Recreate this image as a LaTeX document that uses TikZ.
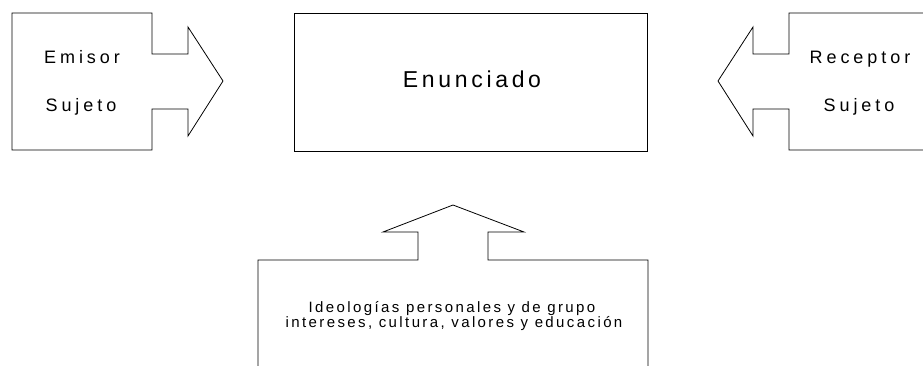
\documentclass[tikz,border=0pt]{standalone}
\usepackage{fontspec}
\setmainfont{Liberation Sans}
\newfontfamily\spaced[LetterSpace=22]{Liberation Sans}
\newfontfamily\spacedc[LetterSpace=16]{Liberation Sans}
\newfontfamily\spacedb[LetterSpace=16]{Liberation Sans}
\begin{document}
\begin{tikzpicture}[x=1pt,y=-1pt,
  outline/.style={draw=black, line width=0.8pt, line join=miter},
  lbl/.style={inner sep=0pt, anchor=base, font=\spaced\fontsize{18}{21}\selectfont},
  biglbl/.style={inner sep=0pt, anchor=base, font=\spacedc\fontsize{23}{27}\selectfont},
  smalllbl/.style={inner sep=0pt, anchor=base, font=\spacedb\fontsize{15}{17}\selectfont}]
\useasboundingbox (0,0) rectangle (923,366);
\clip (0,0) rectangle (923,366);
% left callout (Emisor)
\draw[outline] (12,13) -- (152,13) -- (152,54) -- (188,54) -- (188,27) -- (223,81)
  -- (188,136) -- (188,109) -- (152,109) -- (152,150) -- (12,150) -- cycle;
% right callout (Receptor)
\draw[outline] (940,13) -- (789,13) -- (789,54) -- (753,54) -- (753,27) -- (718,81)
  -- (753,136) -- (753,109) -- (789,109) -- (789,150) -- (940,150);
% center box
\draw[outline] (294,13) rectangle (647,151);
% bottom callout
\draw[outline] (258,380) -- (258,260) -- (418,260) -- (418,232) -- (383,232) -- (453,205)
  -- (524,232) -- (488,232) -- (488,260) -- (648,260) -- (648,380);
% labels
\node[lbl] (emisor) at (82,64) {Emisor};
\node[lbl] (sujetoL) at (81,112) {Sujeto};
\node[lbl] (receptor) at (860,64) {Receptor};
\node[lbl] (sujetoR) at (859,112) {Sujeto};
\node[biglbl] (enunciado) at (472,88) {Enunciado};
\node[smalllbl] (ideo1) at (452,312) {Ideologías personales y de grupo};
\node[smalllbl] (ideo2) at (454,327) {intereses, cultura, valores y educación};
\end{tikzpicture}
\end{document}
